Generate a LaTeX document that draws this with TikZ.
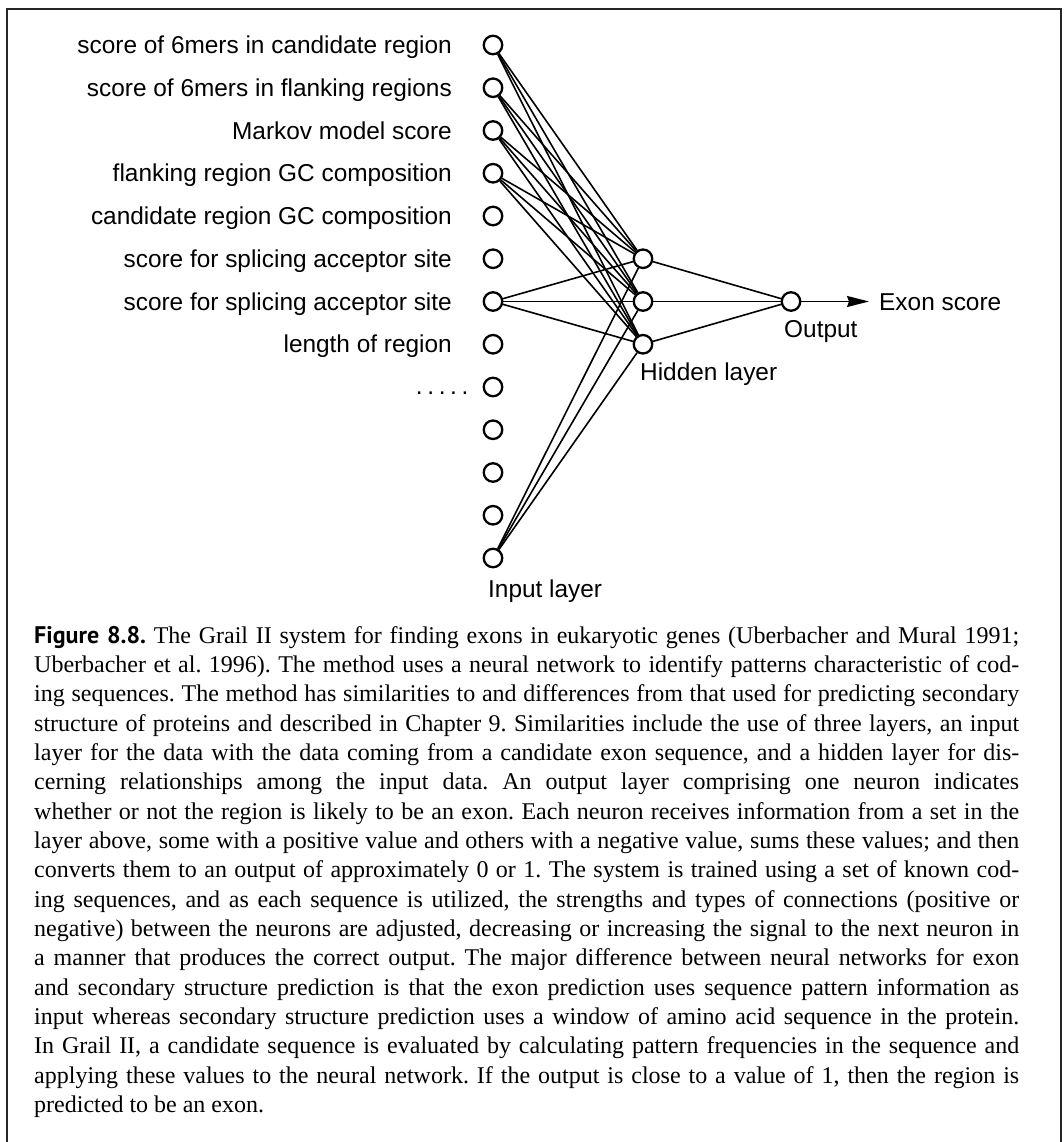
\documentclass[tikz,border=0pt]{standalone}
\usepackage{fontspec}
\setmainfont{Liberation Serif}
\newfontfamily\lblfont{Liberation Sans}
\newfontfamily\figfont{PT Sans}
\usetikzlibrary{arrows.meta}
\frenchspacing
\begin{document}
\begin{tikzpicture}[x=1pt,y=-1pt,
  neuron/.style={circle,draw,line width=2.3pt,minimum size=18.5pt,inner sep=0pt},
  lbl/.style={font=\lblfont\fontsize{24.4}{28}\selectfont,inner sep=0pt},
  captxt/.style={font=\fontsize{24}{29}\selectfont,inner sep=0pt,anchor=base west},
  conn/.style={line width=1.6pt},
  frameline/.style={line width=2pt,draw=black!85}]
\useasboundingbox (0,0) rectangle (1063,1142);
\draw[frameline] (7,1160) -- (7,9) -- (1061,9) -- (1061,1160);
% input layer
\foreach \i in {1,...,13}
  \node[neuron] (in\i) at (493,{45+(\i-1)*42.75}) {};
% hidden layer
\node[neuron] (h1) at (643,258.75) {};
\node[neuron] (h2) at (643,301.5) {};
\node[neuron] (h3) at (643,344.25) {};
% output
\node[neuron] (out) at (791,301.5) {};
\coordinate (tip) at (869,301.5);
% labels
\node[lbl,anchor=base east] (l1) at (452,53.7) {score of 6mers in candidate region};
\node[lbl,anchor=base east] (l2) at (452,96.45) {score of 6mers in flanking regions};
\node[lbl,anchor=base east] (l3) at (452,139.2) {Markov model score};
\node[lbl,anchor=base east] (l4) at (452,181.95) {flanking region GC composition};
\node[lbl,anchor=base east] (l5) at (452,224.7) {candidate region GC composition};
\node[lbl,anchor=base east] (l6) at (452,267.45) {score for splicing acceptor site};
\node[lbl,anchor=base east] (l7) at (452,310.2) {score for splicing acceptor site};
\node[lbl,anchor=base east] (l8) at (452,352.95) {length of region};
\node[lbl,anchor=base west] (l9) at (415.6,394.5) {.\kern4.7pt.\kern4.7pt.\kern4.7pt.\kern4.7pt.};
\node[lbl,anchor=base west] (inlbl) at (488,597) {Input layer};
\node[lbl,anchor=base west] (hidlbl) at (640,380.5) {Hidden layer};
\node[lbl,anchor=base west] (outlbl) at (784,337) {Output};
\node[lbl,anchor=base west] (exon) at (879,310) {Exon score};
% connections
\foreach \i in {1,2,3,4,7,13}
  \foreach \j in {1,2,3}
    \draw[conn] (in\i) -- (h\j);
\foreach \j in {1,2,3}
  \draw[conn] (h\j) -- (out);
\draw[conn,-{Stealth[length=22pt,width=11pt,inset=2pt]}] (out) -- (tip);
% caption
\node[captxt] (c1) at (34,643) {\makebox[985pt][s]{{\figfont\bfseries Figure 8.8.} The Grail II system for finding exons in eukaryotic genes (Uberbacher and Mural 1991;}};
\node[captxt] (c2) at (34,672.35) {\makebox[985pt][s]{Uberbacher et al. 1996). The method uses a neural network to identify patterns characteristic of cod-}};
\node[captxt] (c3) at (34,701.7) {\makebox[985pt][s]{ing sequences. The method has similarities to and differences from that used for predicting secondary}};
\node[captxt] (c4) at (34,731.05) {\makebox[985pt][s]{structure of proteins and described in Chapter 9. Similarities include the use of three layers, an input}};
\node[captxt] (c5) at (34,760.4) {\makebox[985pt][s]{layer for the data with the data coming from a candidate exon sequence, and a hidden layer for dis-}};
\node[captxt] (c6) at (34,789.75) {\makebox[985pt][s]{cerning relationships among the input data. An output layer comprising one neuron indicates}};
\node[captxt] (c7) at (34,819.1) {\makebox[985pt][s]{whether or not the region is likely to be an exon. Each neuron receives information from a set in the}};
\node[captxt] (c8) at (34,848.45) {\makebox[985pt][s]{layer above, some with a positive value and others with a negative value, sums these values; and then}};
\node[captxt] (c9) at (34,877.8) {\makebox[985pt][s]{converts them to an output of approximately 0 or 1. The system is trained using a set of known cod-}};
\node[captxt] (c10) at (34,907.15) {\makebox[985pt][s]{ing sequences, and as each sequence is utilized, the strengths and types of connections (positive or}};
\node[captxt] (c11) at (34,936.5) {\makebox[985pt][s]{negative) between the neurons are adjusted, decreasing or increasing the signal to the next neuron in}};
\node[captxt] (c12) at (34,965.85) {\makebox[985pt][s]{a manner that produces the correct output. The major difference between neural networks for exon}};
\node[captxt] (c13) at (34,995.2) {\makebox[985pt][s]{and secondary structure prediction is that the exon prediction uses sequence pattern information as}};
\node[captxt] (c14) at (34,1024.55) {\makebox[985pt][s]{input whereas secondary structure prediction uses a window of amino acid sequence in the protein.}};
\node[captxt] (c15) at (34,1053.9) {\makebox[985pt][s]{In Grail II, a candidate sequence is evaluated by calculating pattern frequencies in the sequence and}};
\node[captxt] (c16) at (34,1083.25) {\makebox[985pt][s]{applying these values to the neural network. If the output is close to a value of 1, then the region is}};
\node[captxt] (c17) at (34,1112.6) {predicted to be an exon.};
\end{tikzpicture}
\end{document}
